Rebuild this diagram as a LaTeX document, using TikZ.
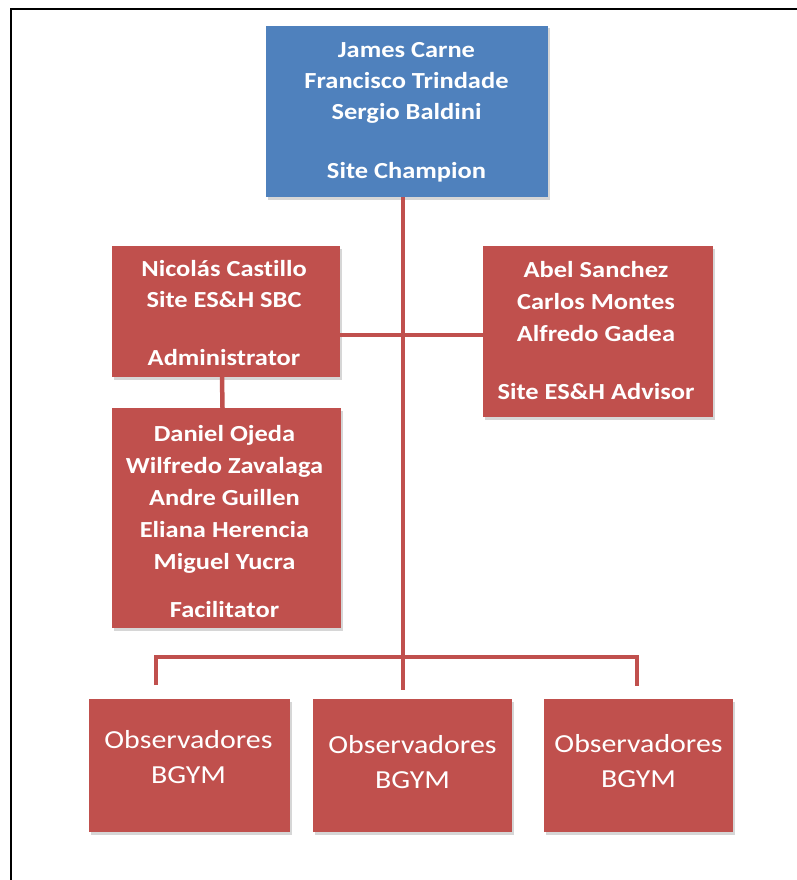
\documentclass[tikz,border=0pt]{standalone}
\usepackage{fontspec}
\setmainfont{Carlito}[FakeStretch=1.15, Ligatures=NoCommon]
\usetikzlibrary{shadows}
\definecolor{ofblue}{RGB}{79,129,189}
\definecolor{ofred}{RGB}{192,80,77}
\begin{document}
\begin{tikzpicture}[x=1pt,y=-1pt,
  box/.style={rectangle, draw=none, inner sep=0pt,
    drop shadow={shadow xshift=1.5pt, shadow yshift=-2.5pt, opacity=0.35, fill=black!45}},
  bluebox/.style={box, fill=ofblue},
  redbox/.style={box, fill=ofred},
  txt/.style={text=white, align=center, inner sep=0pt, font=\bfseries\fontsize{23}{31}\selectfont},
  txtb/.style={txt, font=\bfseries\fontsize{23}{32}\selectfont},
  obstxt/.style={txt, font=\fontsize{26}{35}\selectfont},
  link/.style={draw=ofred, line width=4.5pt, line join=miter},
  framestyle/.style={draw=black, line width=2pt}]
\useasboundingbox (0,0) rectangle (797,880);
\fill[white] (0,0) rectangle (797,880);

% frame
\coordinate (fa) at (11,880);
\coordinate (fb) at (11,9);
\coordinate (fc) at (797,9);
\draw[framestyle] (fa) -- (fb) -- (fc);

% boxes
\node[bluebox, minimum width=282pt, minimum height=171pt] (blue) at (407,111.5) {};
\node[redbox, minimum width=228pt, minimum height=131pt] (admin) at (226,311.5) {};
\node[redbox, minimum width=229pt, minimum height=220pt] (fac) at (226.5,518) {};
\node[redbox, minimum width=230pt, minimum height=171pt] (adv) at (598,331.5) {};
\node[redbox, minimum width=201pt, minimum height=133pt] (o1) at (189.5,765.5) {};
\node[redbox, minimum width=199pt, minimum height=133pt] (o2) at (412.5,765.5) {};
\node[redbox, minimum width=189pt, minimum height=133pt] (o3) at (638.5,765.5) {};

% texts
\node[txt] (bluet) at (406.5,112) {James Carne\\Francisco Trindade\\Sergio Baldini\\[28pt]Site Champion};
\node[txt] (admint) at (224,313.5) {Nicolás Castillo\\Site ES\&H SBC\\[27pt]Administrator};
\node[txtb] (fact) at (224.5,521.5) {Daniel Ojeda\\Wilfredo Zavalaga\\Andre Guillen\\Eliana Herencia\\Miguel Yucra\\[16pt]Facilitator};
\node[txtb] (advt) at (596,331) {Abel Sanchez\\Carlos Montes\\Alfredo Gadea\\[26pt]Site ES\&H Advisor};
\node[obstxt] (o1t) at (188.5,757.5) {Observadores\\BGYM};
\node[obstxt] (o2t) at (412.5,762) {Observadores\\BGYM};
\node[obstxt] (o3t) at (638.5,761) {Observadores\\BGYM};

% connectors
\coordinate (tb) at (403,690);
\draw[link] (blue.south -| tb) -- (tb);
\coordinate (hj) at (403,335);
\draw[link] (admin.east |- hj) -- (adv.west |- hj);
\draw[link] ([xshift=-4pt]admin.south) -- ([xshift=-4pt]fac.north);
\coordinate (bl) at (156,657);
\coordinate (br) at (637,657);
\coordinate (bld) at (156,685);
\coordinate (brd) at (637,686);
\draw[link] (bld) -- (bl) -- (br) -- (brd);
\end{tikzpicture}
\end{document}
